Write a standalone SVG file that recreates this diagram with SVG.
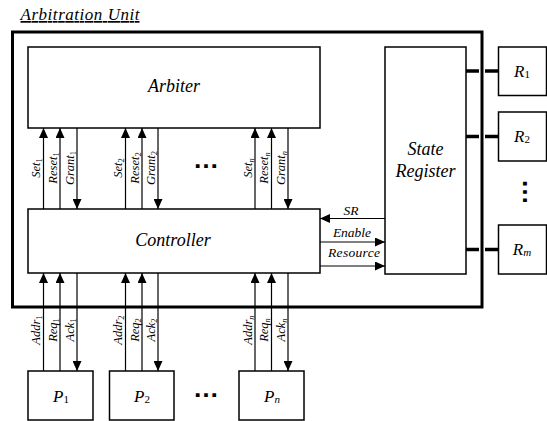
<svg xmlns="http://www.w3.org/2000/svg" width="547" height="421" viewBox="0 0 547 421">
<defs>
<style>
.box{fill:#fff;stroke:#000;stroke-width:1.5}
.outer{fill:none;stroke:#000;stroke-width:3}
.ln{stroke:#000;stroke-width:1.2;fill:none}
.thick{stroke:#000;stroke-width:3.5;fill:none}
</style>
<marker id="ah" viewBox="0 0 10 9" markerWidth="10" markerHeight="9" refX="10" refY="4.5" orient="auto" markerUnits="userSpaceOnUse"><path d="M0,0 L10,4.5 L0,9 z" fill="#000"/></marker>
</defs>
<rect width="547" height="421" fill="#fff"/>

<g id="diagram" font-family="Liberation Serif" font-style="italic" fill="#000">

<g id="arbitration-unit">
<rect class="outer" x="12.5" y="32" width="469.5" height="275"/>
<text x="20.5" y="20" font-size="17" textLength="119" lengthAdjust="spacing" text-decoration="underline">Arbitration Unit</text>
</g>

<g id="arbiter" font-size="18" text-anchor="middle">
<rect class="box" x="28" y="47" width="292" height="81"/>
<text x="174" y="92">Arbiter</text>
</g>

<g id="controller" font-size="18" text-anchor="middle">
<rect class="box" x="28" y="209" width="292" height="64"/>
<text x="173" y="246">Controller</text>
</g>

<g id="state-register" font-size="18" text-anchor="middle">
<rect class="box" x="385" y="47" width="81" height="227"/>
<text x="425.5" y="155">State</text>
<text x="425.5" y="177">Register</text>
</g>

<g id="r1" font-size="17" text-anchor="middle">
<rect class="box" x="498.5" y="47" width="48" height="48.5"/>
<text x="522" y="77">R<tspan font-size="11" font-style="normal" dy="1">1</tspan></text>
</g>
<g id="r2" font-size="17" text-anchor="middle">
<rect class="box" x="498.5" y="112" width="48" height="49"/>
<text x="522" y="142">R<tspan font-size="11" font-style="normal" dy="1">2</tspan></text>
</g>
<g id="rm" font-size="17" text-anchor="middle">
<rect class="box" x="498.5" y="225" width="48" height="49"/>
<text x="522" y="255">R<tspan font-size="11" dy="1">m</tspan></text>
</g>

<g id="p1" font-size="17" text-anchor="middle">
<rect class="box" x="28" y="371" width="65" height="49"/>
<text x="61" y="402">P<tspan font-size="11" font-style="normal" dy="1">1</tspan></text>
</g>
<g id="p2" font-size="17" text-anchor="middle">
<rect class="box" x="109.5" y="371" width="64.5" height="49"/>
<text x="142" y="402">P<tspan font-size="11" font-style="normal" dy="1">2</tspan></text>
</g>
<g id="pn" font-size="17" text-anchor="middle">
<rect class="box" x="239" y="371" width="65" height="49"/>
<text x="272" y="402">P<tspan font-size="11" dy="1">n</tspan></text>
</g>

<g id="connectors">
<line class="ln" x1="43.5" y1="209" x2="43.5" y2="128" marker-end="url(#ah)"/>
<line class="ln" x1="60" y1="209" x2="60" y2="128" marker-end="url(#ah)"/>
<line class="ln" x1="77" y1="128" x2="77" y2="209" marker-end="url(#ah)"/>
<line class="ln" x1="125.5" y1="209" x2="125.5" y2="128" marker-end="url(#ah)"/>
<line class="ln" x1="142" y1="209" x2="142" y2="128" marker-end="url(#ah)"/>
<line class="ln" x1="158" y1="128" x2="158" y2="209" marker-end="url(#ah)"/>
<line class="ln" x1="255" y1="209" x2="255" y2="128" marker-end="url(#ah)"/>
<line class="ln" x1="271.5" y1="209" x2="271.5" y2="128" marker-end="url(#ah)"/>
<line class="ln" x1="288" y1="128" x2="288" y2="209" marker-end="url(#ah)"/>
<line class="ln" x1="43.5" y1="371" x2="43.5" y2="273" marker-end="url(#ah)"/>
<line class="ln" x1="60" y1="371" x2="60" y2="273" marker-end="url(#ah)"/>
<line class="ln" x1="77" y1="273" x2="77" y2="371" marker-end="url(#ah)"/>
<line class="ln" x1="125.5" y1="371" x2="125.5" y2="273" marker-end="url(#ah)"/>
<line class="ln" x1="142" y1="371" x2="142" y2="273" marker-end="url(#ah)"/>
<line class="ln" x1="158" y1="273" x2="158" y2="371" marker-end="url(#ah)"/>
<line class="ln" x1="255" y1="371" x2="255" y2="273" marker-end="url(#ah)"/>
<line class="ln" x1="271.5" y1="371" x2="271.5" y2="273" marker-end="url(#ah)"/>
<line class="ln" x1="288" y1="273" x2="288" y2="371" marker-end="url(#ah)"/>
<line class="ln" x1="385" y1="218.5" x2="320" y2="218.5" marker-end="url(#ah)" stroke-width="1.5"/>
<line class="ln" x1="320" y1="242" x2="385" y2="242" marker-end="url(#ah)" stroke-width="1.5"/>
<line class="ln" x1="320" y1="266" x2="385" y2="266" marker-end="url(#ah)" stroke-width="2"/>
<line class="thick" x1="466" y1="71" x2="479" y2="71"/>
<line class="thick" x1="485" y1="71" x2="498.5" y2="71"/>
<line class="thick" x1="466" y1="136.5" x2="479" y2="136.5"/>
<line class="thick" x1="485" y1="136.5" x2="498.5" y2="136.5"/>
<line class="thick" x1="466" y1="249.5" x2="479" y2="249.5"/>
<line class="thick" x1="485" y1="249.5" x2="498.5" y2="249.5"/>

<g font-size="12.5" text-anchor="middle">
<text transform="translate(40,168) rotate(-90)">Set<tspan font-size="8.5" font-style="normal" dy="2">1</tspan></text>
<text transform="translate(56.5,168) rotate(-90)">Reset<tspan font-size="8.5" font-style="normal" dy="2">1</tspan></text>
<text transform="translate(73.5,168) rotate(-90)">Grant<tspan font-size="8.5" font-style="normal" dy="2">1</tspan></text>
<text transform="translate(122,168) rotate(-90)">Set<tspan font-size="8.5" font-style="normal" dy="2">2</tspan></text>
<text transform="translate(138.5,168) rotate(-90)">Reset<tspan font-size="8.5" font-style="normal" dy="2">2</tspan></text>
<text transform="translate(154.5,168) rotate(-90)">Grant<tspan font-size="8.5" font-style="normal" dy="2">2</tspan></text>
<text transform="translate(251.5,168) rotate(-90)">Set<tspan font-size="8.5" dy="2">n</tspan></text>
<text transform="translate(268,168) rotate(-90)">Reset<tspan font-size="8.5" dy="2">n</tspan></text>
<text transform="translate(284.5,168) rotate(-90)">Grant<tspan font-size="8.5" dy="2">n</tspan></text>

<text transform="translate(40,330) rotate(-90)">Addr<tspan font-size="8.5" font-style="normal" dy="2">1</tspan></text>
<text transform="translate(56.5,330) rotate(-90)">Req<tspan font-size="8.5" font-style="normal" dy="2">1</tspan></text>
<text transform="translate(73.5,330) rotate(-90)">Ack<tspan font-size="8.5" font-style="normal" dy="2">1</tspan></text>
<text transform="translate(122,330) rotate(-90)">Addr<tspan font-size="8.5" font-style="normal" dy="2">2</tspan></text>
<text transform="translate(138.5,330) rotate(-90)">Req<tspan font-size="8.5" font-style="normal" dy="2">2</tspan></text>
<text transform="translate(154.5,330) rotate(-90)">Ack<tspan font-size="8.5" font-style="normal" dy="2">2</tspan></text>
<text transform="translate(251.5,330) rotate(-90)">Addr<tspan font-size="8.5" dy="2">n</tspan></text>
<text transform="translate(268,330) rotate(-90)">Req<tspan font-size="8.5" dy="2">n</tspan></text>
<text transform="translate(284.5,330) rotate(-90)">Ack<tspan font-size="8.5" dy="2">n</tspan></text>
</g>

<g font-size="13.5" text-anchor="middle">
<text x="351" y="215">SR</text>
<text x="352" y="236.5">Enable</text>
<text x="354" y="257" textLength="52" lengthAdjust="spacing">Resource</text>
</g>
</g>

<g id="ellipses" font-family="Liberation Sans" font-style="normal" font-weight="bold" font-size="26" text-anchor="middle">
<text x="206" y="168">…</text>
<text x="206" y="397">…</text>
<text transform="translate(522.5,192) rotate(90)">…</text>
</g>
</g>
</svg>
